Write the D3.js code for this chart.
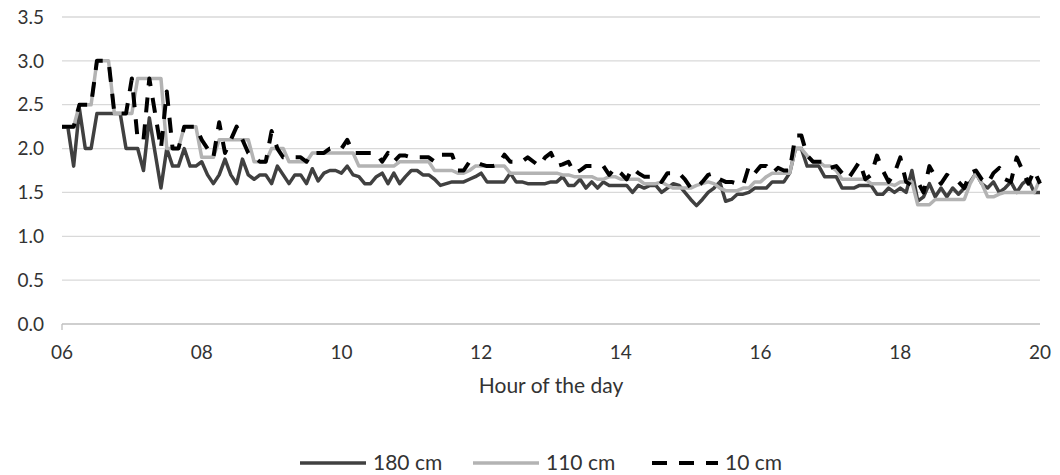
<!DOCTYPE html>
<html>
<head>
<meta charset="utf-8">
<script src="https://cdn.jsdelivr.net/npm/d3@7"></script>
<style>
  body { margin: 0; background: #fff; }
  svg text { font-family: Lato, "Liberation Sans", sans-serif; fill: #333; }
</style>
</head>
<body>
<svg id="chart" width="1060" height="475"></svg>
<script>
// readings every 5 minutes from 06:00 to 20:00
const startHour = 6;
const stepMinutes = 5;

const seriesNames = ["180 cm", "110 cm", "10 cm"];

const values180 = [
  2.25, 2.25, 1.8, 2.45, 2.0, 2.0, 2.4, 2.4, 2.4, 2.4,
  2.4, 2.0, 2.0, 2.0, 1.75, 2.35, 1.95, 1.55, 2.0, 1.8,
  1.8, 2.0, 1.8, 1.8, 1.85, 1.7, 1.6, 1.7, 1.88, 1.7,
  1.6, 1.88, 1.7, 1.65, 1.7, 1.7, 1.6, 1.8, 1.7, 1.6,
  1.7, 1.7, 1.6, 1.77, 1.63, 1.72, 1.75, 1.75, 1.72, 1.8,
  1.7, 1.68, 1.6, 1.6, 1.68, 1.72, 1.6, 1.72, 1.6, 1.68,
  1.75, 1.75, 1.7, 1.7, 1.65, 1.58, 1.6, 1.62, 1.62, 1.62,
  1.65, 1.68, 1.72, 1.62, 1.62, 1.62, 1.62, 1.72, 1.62, 1.62,
  1.6, 1.6, 1.6, 1.6, 1.62, 1.62, 1.68, 1.58, 1.58, 1.65,
  1.55, 1.62, 1.55, 1.62, 1.58, 1.58, 1.58, 1.58, 1.5, 1.58,
  1.55, 1.58, 1.58, 1.5, 1.55, 1.6, 1.58, 1.5, 1.42, 1.35,
  1.42, 1.5, 1.55, 1.62, 1.4, 1.42, 1.48, 1.48, 1.5, 1.55,
  1.55, 1.55, 1.62, 1.62, 1.62, 1.72, 2.0, 2.0, 1.8, 1.8,
  1.8, 1.68, 1.68, 1.68, 1.55, 1.55, 1.55, 1.58, 1.58, 1.58,
  1.48, 1.48, 1.55, 1.5, 1.55, 1.5, 1.75, 1.4, 1.45, 1.6,
  1.45, 1.55, 1.45, 1.55, 1.48, 1.55, 1.62, 1.72, 1.6, 1.55,
  1.62, 1.5, 1.55, 1.62, 1.5, 1.6, 1.65, 1.5, 1.5
];

const values110 = [
  2.25, 2.25, 2.25, 2.5, 2.5, 2.5, 3.0, 3.0, 3.0, 2.4,
  2.4, 2.4, 2.4, 2.8, 2.8, 2.8, 2.8, 2.8, 2.0, 2.0,
  2.0, 2.25, 2.25, 2.25, 1.9, 1.9, 1.9, 2.1, 2.1, 2.1,
  2.1, 2.1, 2.1, 1.85, 1.85, 1.85, 2.0, 2.0, 2.0, 1.85,
  1.85, 1.85, 1.85, 1.95, 1.95, 1.95, 1.95, 1.95, 1.95, 1.95,
  1.95, 1.8, 1.8, 1.8, 1.8, 1.8, 1.8, 1.8, 1.85, 1.85,
  1.85, 1.85, 1.85, 1.85, 1.75, 1.75, 1.75, 1.75, 1.72, 1.72,
  1.75, 1.8, 1.8, 1.8, 1.8, 1.8, 1.8, 1.72, 1.72, 1.72,
  1.72, 1.72, 1.72, 1.72, 1.72, 1.72, 1.7, 1.7, 1.68, 1.68,
  1.68, 1.68, 1.65, 1.65, 1.68, 1.68, 1.65, 1.65, 1.65, 1.65,
  1.6, 1.6, 1.6, 1.62, 1.58, 1.55, 1.55, 1.55, 1.55, 1.58,
  1.6, 1.62, 1.6, 1.55, 1.52, 1.52, 1.52, 1.55, 1.55, 1.62,
  1.62, 1.68, 1.72, 1.72, 1.72, 1.72, 2.0, 2.0, 1.92, 1.85,
  1.85, 1.8, 1.8, 1.75, 1.65, 1.65, 1.65, 1.65, 1.65, 1.6,
  1.6, 1.6, 1.6, 1.58, 1.62, 1.62, 1.62, 1.36, 1.36, 1.36,
  1.42, 1.42, 1.42, 1.42, 1.42, 1.42, 1.6, 1.72, 1.6, 1.45,
  1.45, 1.48, 1.5, 1.5, 1.5, 1.5, 1.5, 1.5, 1.65
];

const values10 = [
  2.25, 2.25, 2.25, 2.5, 2.5, 2.5, 3.0, 3.0, 3.0, 2.4,
  2.4, 2.4, 2.8, 2.1, 2.1, 2.8, 2.4, 2.0, 2.65, 2.0,
  2.0, 2.25, 2.25, 2.25, 2.1, 2.0, 1.9, 2.3, 1.95, 2.1,
  2.25, 2.1, 1.95, 1.9, 1.85, 1.85, 2.2, 2.0, 1.9, 1.9,
  1.9, 1.9, 1.85, 1.95, 1.95, 1.95, 2.0, 2.0, 2.0, 2.1,
  1.95, 1.95, 1.95, 1.95, 1.95, 1.85, 1.95, 1.85, 1.92, 1.92,
  1.9, 1.9, 1.9, 1.9, 1.85, 1.93, 1.93, 1.93, 1.75, 1.75,
  1.85, 1.85, 1.82, 1.8, 1.8, 1.82, 1.93, 1.85, 1.85, 1.85,
  1.9, 1.85, 1.8, 1.9, 1.95, 1.8, 1.82, 1.85, 1.72, 1.75,
  1.8, 1.8, 1.8, 1.8, 1.7, 1.78, 1.72, 1.65, 1.78, 1.72,
  1.68, 1.68, 1.68, 1.62, 1.72, 1.72, 1.72, 1.65, 1.55, 1.55,
  1.62, 1.7, 1.72, 1.65, 1.62, 1.62, 1.6, 1.58, 1.8, 1.72,
  1.8, 1.8, 1.72, 1.78, 1.75, 1.75, 2.15, 2.15, 1.92, 1.85,
  1.85, 1.85, 1.78, 1.8, 1.72, 1.65, 1.75, 1.85, 1.65, 1.7,
  1.92, 1.75, 1.62, 1.72, 1.9, 1.62, 1.58, 1.62, 1.5, 1.8,
  1.68, 1.6, 1.7, 1.65, 1.62, 1.55, 1.72, 1.75, 1.65, 1.6,
  1.72, 1.78, 1.65, 1.62, 1.9, 1.75, 1.6, 1.75, 1.6
];

const xTickHours = [6, 8, 10, 12, 14, 16, 18, 20];
const yTicks = [0, 0.5, 1.0, 1.5, 2.0, 2.5, 3.0, 3.5];

const margin = { left: 62, right: 20, top: 17, bottom: 151 };
const width = 1060, height = 475;

const svg = d3.select("#chart");

const x = d3.scaleLinear()
  .domain([6, 20])
  .range([margin.left, width - margin.right]);

const y = d3.scaleLinear()
  .domain([0, 3.5])
  .range([height - margin.bottom, margin.top]);

// gridlines
svg.append("g")
  .selectAll("line")
  .data(yTicks.filter(d => d > 0))
  .join("line")
  .attr("x1", x(6)).attr("x2", x(20))
  .attr("y1", d => y(d)).attr("y2", d => y(d))
  .attr("stroke", "#d9d9d9")
  .attr("stroke-width", 1.3);

// x axis line + left tick
svg.append("line")
  .attr("x1", x(6)).attr("x2", x(20))
  .attr("y1", y(0)).attr("y2", y(0))
  .attr("stroke", "#bfbfbf")
  .attr("stroke-width", 1.3);
svg.append("line")
  .attr("x1", x(6)).attr("x2", x(6))
  .attr("y1", y(0)).attr("y2", y(0) + 6)
  .attr("stroke", "#bfbfbf")
  .attr("stroke-width", 1.3);

// y labels
svg.append("g")
  .selectAll("text")
  .data(yTicks)
  .join("text")
  .attr("x", 44)
  .attr("y", d => y(d))
  .attr("dy", "0.35em")
  .attr("text-anchor", "end")
  .style("font-size", "19px")
  .text(d => d3.format(".1f")(d));

// x labels
svg.append("g")
  .selectAll("text")
  .data(xTickHours)
  .join("text")
  .attr("x", d => x(d))
  .attr("y", y(0) + 35)
  .attr("text-anchor", "middle")
  .style("font-size", "19px")
  .text(d => String(d).padStart(2, "0"));

svg.append("text")
  .attr("x", (x(6) + x(20)) / 2)
  .attr("y", 393)
  .attr("text-anchor", "middle")
  .style("font-size", "21px")
  .text("Hour of the day");

// series
const styles = [
  { color: "#404040", width: 3.5, dash: null },
  { color: "#b3b3b3", width: 3.5, dash: null },
  { color: "#000000", width: 4, dash: "15,12" }
];
const allSeries = [values180, values110, values10];

const line = d3.line()
  .x((d, i) => x(startHour + i * stepMinutes / 60))
  .y(d => y(d));

allSeries.forEach((vals, k) => {
  svg.append("path")
    .datum(vals)
    .attr("d", line)
    .attr("fill", "none")
    .attr("stroke", styles[k].color)
    .attr("stroke-width", styles[k].width)
    .attr("stroke-linejoin", "round")
    .attr("stroke-dasharray", styles[k].dash);
});

// legend
const legendX = [300, 473, 652];
const legendY = 463;
const lg = svg.append("g");
seriesNames.forEach((name, k) => {
  lg.append("line")
    .attr("x1", legendX[k]).attr("x2", legendX[k] + 66)
    .attr("y1", legendY).attr("y2", legendY)
    .attr("stroke", styles[k].color)
    .attr("stroke-width", styles[k].width)
    .attr("stroke-dasharray", styles[k].dash);
  lg.append("text")
    .attr("x", legendX[k] + 73)
    .attr("y", legendY)
    .attr("dy", "0.35em")
    .style("font-size", "21px")
    .text(name);
});
</script>
</body>
</html>
